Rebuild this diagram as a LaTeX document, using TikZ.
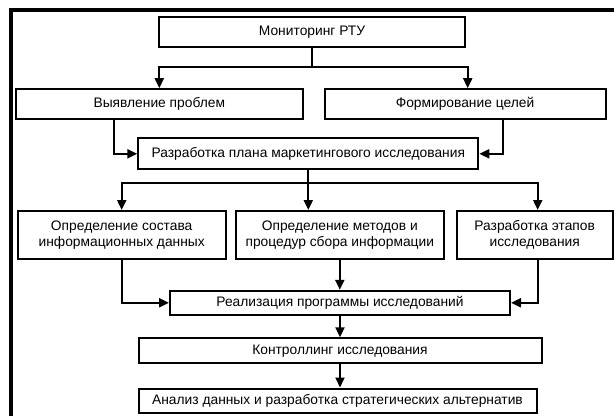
\documentclass[tikz,border=0pt]{standalone}
\usepackage{fontspec}
\setmainfont{Liberation Sans}
\usepackage{tikz}
\usetikzlibrary{arrows.meta,positioning}
\tikzset{>={Triangle[length=10pt,width=9pt]}}

\begin{document}
\begin{tikzpicture}[x=1pt,y=-1pt,
    box/.style={draw,line width=2pt,inner sep=1pt,align=center,
      font=\fontsize{13.8}{15.5}\selectfont},
    link/.style={line width=2pt,->}]
        \useasboundingbox (0,0) rectangle (614,416);
        \draw[line width=4pt] (11,416) -- (11,10) -- (614,10);
        \node[box,minimum width=306pt,minimum height=30pt] (mon) at (312,32) {Мониторинг РТУ};
        \node[box,minimum width=287pt,minimum height=30pt] (vyav) at (159.3,104.2) {Выявление проблем};
        \node[box,minimum width=281pt,minimum height=30pt] (form) at (465,104.2) {Формирование целей};
        \node[box,minimum width=340pt,minimum height=31pt] (plan) at (308.3,153.8) {Разработка плана маркетингового исследования};
        \node[box,minimum width=208pt,minimum height=48pt] (sost) at (121.7,235) {Определение состава\\информационных данных};
        \node[box,minimum width=208pt,minimum height=48pt] (metod) at (339.8,235) {Определение методов и\\процедур сбора информации};
        \node[box,minimum width=156pt,minimum height=48pt] (etap) at (534.7,235) {Разработка этапов\\исследования};
        \node[box,minimum width=340pt,minimum height=24pt] (real) at (340,302.8) {Реализация программы исследований};
        \node[box,minimum width=403pt,minimum height=25pt] (kontr) at (340,350.8) {Контроллинг исследования};
        \node[box,minimum width=398pt,minimum height=24pt] (anal) at (337.5,400.5) {Анализ данных и разработка стратегических альтернатив};
        \draw[link] (mon.south) -- ++(0,18.7) -| (vyav.north);
        \draw[link] (mon.south) -- ++(0,18.7) -| ([xshift=2.7pt]form.north);
        \draw[link] ([xshift=-45.3pt]vyav.south) |- (plan.west);
        \draw[link] ([xshift=38.3pt]form.south) |- (plan.east);
        \draw[link] (plan.south) -- ++(0,12.4) -| (sost.north);
        \draw[link] (plan.south) -- (plan.south |- metod.north);
        \draw[link] (plan.south) -- ++(0,12.4) -| ([xshift=3pt]etap.north);
        \draw[link] (sost.south) |- (real.west);
        \draw[link] (metod.south) -- (metod.south |- real.north);
        \draw[link] ([xshift=3pt]etap.south) |- (real.east);
        \draw[link] (real.south) -- (real.south |- kontr.north);
        \draw[link] (kontr.south) -- (kontr.south |- anal.north);
      \end{tikzpicture}
\end{document}
